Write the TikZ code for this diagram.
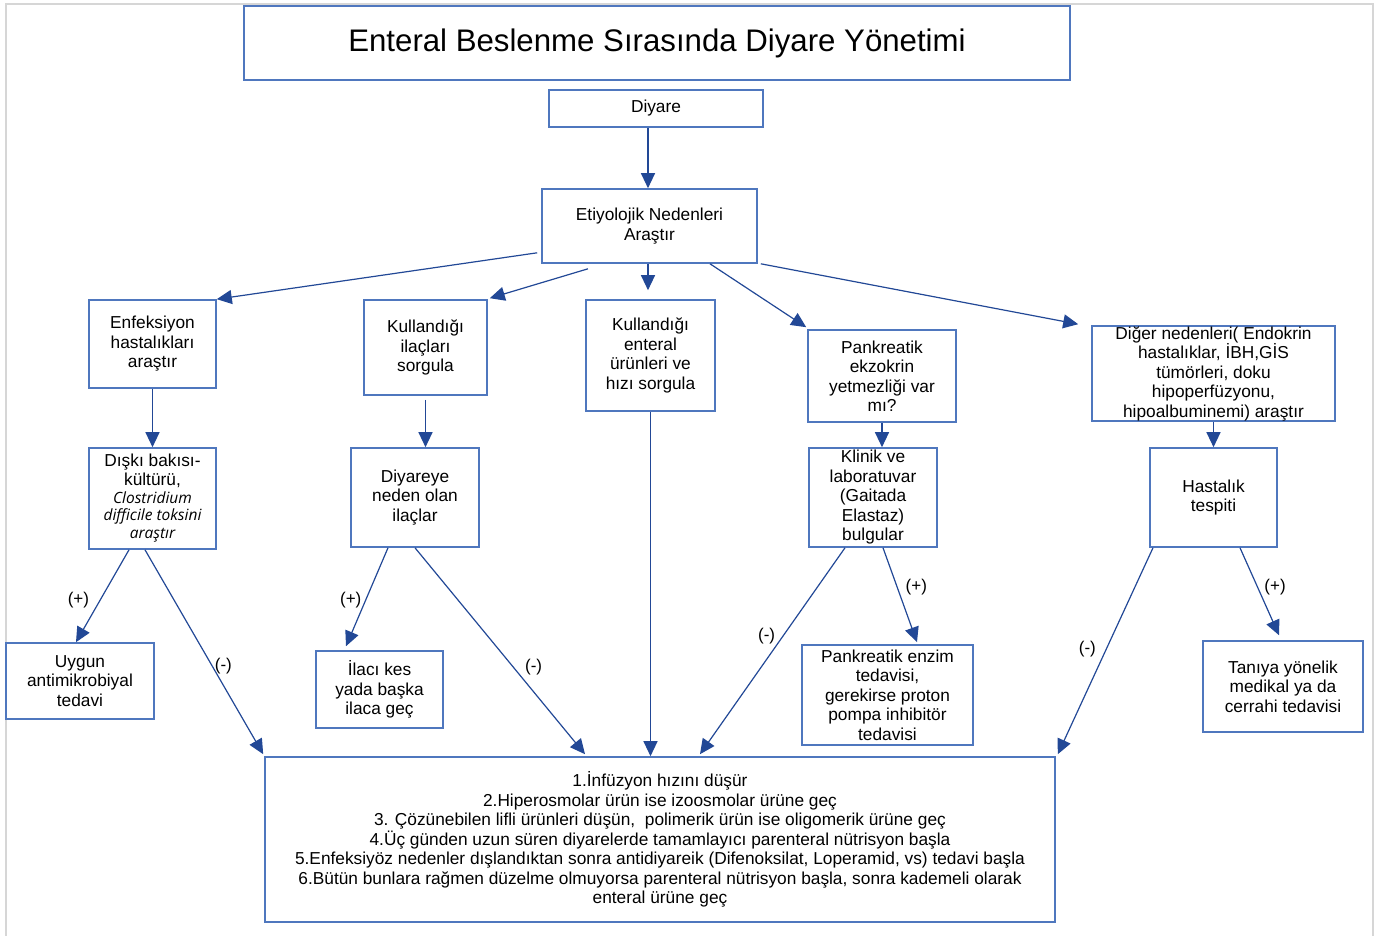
\documentclass[tikz,border=0pt]{standalone}
\usepackage{fontspec}
\setmainfont{Liberation Sans}
\newfontfamily\opfont{Open Sans}
\usetikzlibrary{arrows.meta,calc}
\definecolor{boxblue}{RGB}{79,119,190}
\definecolor{arrowblue}{RGB}{34,72,150}
\definecolor{framegray}{RGB}{214,214,214}
\newcommand{\latin}[1]{{\opfont\itshape\fontsize{15.5}{17.5}\selectfont #1}}

\begin{document}
\begin{tikzpicture}[x=1pt, y=-1pt,
  box/.style={draw=boxblue, line width=1.6pt, align=center, inner sep=0pt,
    font=\fontsize{17.3}{19.5}\selectfont},
  arr/.style={draw=arrowblue, line width=1.2pt, -{Triangle[length=15pt,width=14pt]}},
  sign/.style={font=\fontsize{17}{19.5}\selectfont, inner sep=0pt}]
  \useasboundingbox (0,0) rectangle (1374,936);
  \draw[framegray, line width=2pt] (6,936) -- (6,4) -- (1373,4) -- (1373,936);

  \node[box, minimum width=826, minimum height=74, font=\fontsize{31.2}{36}\selectfont] (title) at (657,43) {Enteral Beslenme Sırasında Diyare Yönetimi};
  \node[box, minimum width=214, minimum height=37] (diyare) at (656,108.5) {Diyare};
  \node[box, minimum width=215, minimum height=74] (etiyo) at (649.5,226) {Etiyolojik Nedenleri\\Araştır};

  \node[box, minimum width=127, minimum height=88] (enf) at (152.5,344) {Enfeksiyon\\hastalıkları\\araştır};
  \node[box, minimum width=123, minimum height=95] (ilacsor) at (425.5,347.5) {Kullandığı\\ilaçları\\sorgula};
  \node[box, minimum width=129, minimum height=111] (urunsor) at (650.5,355.5) {Kullandığı\\enteral\\ürünleri ve\\hızı sorgula};
  \node[box, minimum width=148, minimum height=92] (pank) at (882,376) {Pankreatik\\ekzokrin\\yetmezliği var\\mı?};
  \node[box, minimum width=243, minimum height=95] (diger) at (1213.5,373.5) {Diğer nedenleri( Endokrin\\hastalıklar, İBH,GİS\\tümörleri, doku\\hipoperfüzyonu,\\hipoalbuminemi) araştır};

  \node[box, minimum width=127, minimum height=101] (diski) at (152.5,498.5) {Dışkı bakısı-\\[-0.5pt]kültürü,\\[-1.5pt]\latin{Clostridium}\\[-2.5pt]\latin{difficile toksini}\\[-1.5pt]\latin{araştır}};
  \node[box, minimum width=128, minimum height=99] (ilaclar) at (415,497.5) {Diyareye\\neden olan\\ilaçlar};
  \node[box, minimum width=128, minimum height=99] (klinik) at (873,497.5) {Klinik ve\\laboratuvar\\(Gaitada\\Elastaz)\\bulgular};
  \node[box, minimum width=127, minimum height=99] (tespit) at (1213.5,497.5) {Hastalık\\tespiti};

  \node[box, minimum width=148, minimum height=76] (antimik) at (80,681) {Uygun\\antimikrobiyal\\tedavi};
  \node[box, minimum width=127, minimum height=77] (ilackes) at (379.5,689.5) {İlacı kes\\yada başka\\ilaca geç};
  \node[box, minimum width=171, minimum height=100] (enzim) at (887.5,695) {Pankreatik enzim\\tedavisi,\\gerekirse proton\\pompa inhibitör\\tedavisi};
  \node[box, minimum width=160, minimum height=91] (cerrahi) at (1283,686.5) {Tanıya yönelik\\medikal ya da\\cerrahi tedavisi};

  \node[box, minimum width=790, minimum height=165] (tedavi) at (660,839.5) {1.İnfüzyon hızını düşür\\2.Hiperosmolar ürün ise izoosmolar ürüne geç\\3. Çözünebilen lifli ürünleri düşün,\ \ polimerik ürün ise oligomerik ürüne geç\\4.Üç günden uzun süren diyarelerde tamamlayıcı parenteral nütrisyon başla\\5.Enfeksiyöz nedenler dışlandıktan sonra antidiyareik (Difenoksilat, Loperamid, vs) tedavi başla\\6.Bütün bunlara rağmen düzelme olmuyorsa parenteral nütrisyon başla, sonra kademeli olarak\\enteral ürüne geç};

  \draw[arr] ($(diyare.south)+(-8,0)$) -- ($(etiyo.north)+(-1.5,0)$);
  \draw[arr] ($(etiyo.south west)+(-4,-11)$) -- (enf.north east);
  \draw[arr] ($(etiyo.south)+(-61.5,5)$) -- ($(ilacsor.north east)+(2,-1)$);
  \draw[arr] ($(etiyo.south)+(-1.5,0)$) -- ($(urunsor.north)+(-2.5,-9)$);
  \draw[arr] ($(etiyo.south)+(60.5,0)$) -- ($(pank.north west)+(-1,-2)$);
  \draw[arr] ($(etiyo.south east)+(3,0)$) -- ($(diger.north west)+(-13,-1)$);
  \draw[arr] (enf.south) -- (diski.north);
  \draw[arr] ($(ilacsor.south)+(0,4)$) -- (ilacsor.south |- ilaclar.north);
  \draw[arr] (urunsor.south) -- (urunsor.south |- tedavi.north);
  \draw[arr] (pank.south) -- (pank.south |- klinik.north);
  \draw[arr] (diger.south) -- (tespit.north);
  \draw[arr] ($(diski.south)+(-23.5,0)$) -- node[sign, pos=0.54, xshift=-22] {(+)} ($(antimik.north)+(-4,0)$);
  \draw[arr] ($(diski.south)+(-7.5,0)$) -- node[sign, pos=0.57, xshift=11] {(-)} ($(tedavi.north west)+(-1,-2)$);
  \draw[arr] ($(ilaclar.south)+(-27,0)$) -- node[sign, pos=0.53, xshift=-15] {(+)} ($(ilackes.north)+(-33.5,-4)$);
  \draw[arr] (ilaclar.south) -- node[sign, pos=0.58, xshift=20] {(-)} ($(tedavi.north)+(-75,-2)$);
  \draw[arr] ($(klinik.south)+(-28,0)$) -- node[sign, pos=0.43, xshift=-16] {(-)} ($(tedavi.north)+(40,-2)$);
  \draw[arr] ($(klinik.south)+(10,0)$) -- node[sign, pos=0.42, xshift=19] {(+)} ($(enzim.north)+(29.5,-2)$);
  \draw[arr] ($(tespit.south)+(-60.5,0)$) -- node[sign, pos=0.49, xshift=-19] {(-)} ($(tedavi.north east)+(2,-2)$);
  \draw[arr] ($(tespit.south)+(26.5,0)$) -- node[sign, pos=0.45, xshift=17.5] {(+)} ($(cerrahi.north)+(-4,-5)$);
\end{tikzpicture}
\end{document}
